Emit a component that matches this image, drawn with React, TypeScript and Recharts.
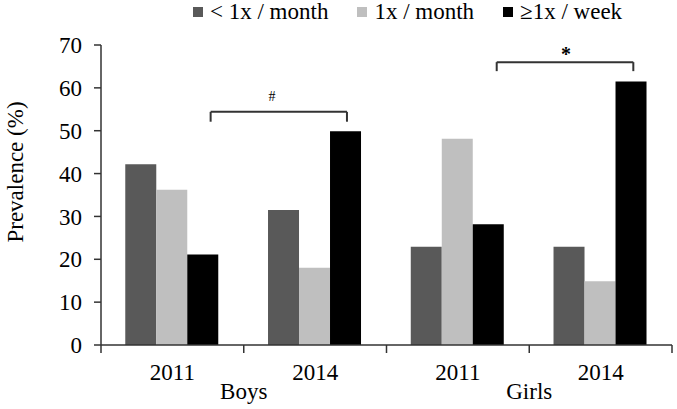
import React from 'react';
import {
  BarChart,
  Bar,
  XAxis,
  YAxis,
  Legend,
  ReferenceLine,
  ReferenceDot,
  Label,
} from 'recharts';

// ---- data ----
const categories = ['2011', '2014', '2011', '2014'];
const groups = ['Boys', 'Boys', 'Girls', 'Girls'];
const lessThanMonthly = [42.2, 31.5, 22.9, 22.9];
const monthly = [36.2, 18.0, 48.1, 14.9];
const weekly = [21.1, 49.9, 28.2, 61.5];

const seriesNames = ['< 1x / month', '1x / month', '\u22651x / week'];
const seriesKeys = ['lessMonthly', 'monthly', 'weekly'];
const seriesColors = ['#595959', '#bfbfbf', '#000000'];

const yTicks = [0, 10, 20, 30, 40, 50, 60, 70];

// significance brackets (x in a 0..4 group-position scale, y in the value scale)
const bracketMarks = ['#', '*'];
const bracketStart = [0.768, 2.772];
const bracketEnd = [1.723, 3.729];
const bracketTop = [54.4, 66.0];
const bracketFoot = [52.1, 63.9];
const markX = [1.198, 3.257];

const data = categories.map((c, i) => ({
  year: c,
  group: groups[i],
  slot: i + 0.5,
  lessMonthly: lessThanMonthly[i],
  monthly: monthly[i],
  weekly: weekly[i],
}));

const FONT = '"Liberation Serif", "Times New Roman", Times, serif';
const AXIS_COLOR = '#333333';
const X_TICK_SIZE = 8;
const X_TICK_MARGIN = 11;

function CategoryTick(props: any) {
  const { x, y, payload, index, width, visibleTicksCount } = props;
  const band = width / visibleTicksCount;
  const axisY = y - X_TICK_SIZE - X_TICK_MARGIN;
  const row = data[index];
  const showGroup = index === 0 || groups[index] !== groups[index - 1];
  const isLast = index === visibleTicksCount - 1;
  return (
    <g>
      <line x1={x - band / 2} x2={x - band / 2} y1={axisY} y2={axisY + X_TICK_SIZE} stroke={AXIS_COLOR} strokeWidth={1.5} />
      {isLast && (
        <line x1={x + band / 2} x2={x + band / 2} y1={axisY} y2={axisY + X_TICK_SIZE} stroke={AXIS_COLOR} strokeWidth={1.5} />
      )}
      <text x={x} y={y} dy="0.71em" textAnchor="middle" fontSize={23} fontFamily={FONT} fill="#000">
        {payload.value}
      </text>
      {showGroup && (
        <text x={x + band / 2} y={y + 19} dy="0.71em" textAnchor="middle" fontSize={23} fontFamily={FONT} fill="#000">
          {row ? row.group : ''}
        </text>
      )}
    </g>
  );
}

function YTitle(props: any) {
  const vb = props.viewBox || { x: 0, y: 45, width: 101, height: 300 };
  const cx = vb.x + 15;
  const cy = vb.y + vb.height / 2 - 23;
  return (
    <text
      x={cx}
      y={cy}
      transform={`rotate(-90 ${cx} ${cy})`}
      textAnchor="middle"
      dominantBaseline="central"
      fontSize={23}
      fontFamily={FONT}
      fill="#000"
    >
      Prevalence (%)
    </text>
  );
}

function LegendContent() {
  return (
    <div
      style={{
        display: 'flex',
        alignItems: 'center',
        paddingLeft: 193,
        height: 24,
        fontFamily: FONT,
        fontSize: 23,
        lineHeight: '24px',
        color: '#000',
        whiteSpace: 'nowrap',
      }}
    >
      {seriesNames.map((n, i) => (
        <div key={n} style={{ display: 'flex', alignItems: 'center', marginRight: 29 }}>
          <span style={{ display: 'inline-block', width: 10, height: 10, background: seriesColors[i], marginRight: 7 }} />
          <span style={{ fontFamily: FONT, fontSize: 23 }}>{n}</span>
        </div>
      ))}
    </div>
  );
}

export default function App() {
  return (
    <div style={{ position: 'absolute', left: 0, top: 0, width: 677, height: 409, background: '#fff', fontFamily: FONT }}>
      <BarChart
        width={677}
        height={409}
        data={data}
        margin={{ top: 45, right: 5, bottom: 0, left: 0 }}
        barCategoryGap="17%"
        barGap={0}
      >
        <XAxis
          dataKey="year"
          height={64}
          axisLine={{ stroke: AXIS_COLOR, strokeWidth: 1.5 }}
          tickLine={false}
          tickSize={X_TICK_SIZE}
          tickMargin={X_TICK_MARGIN}
          tick={<CategoryTick />}
          interval={0}
        />
        <XAxis
          xAxisId="num"
          dataKey="slot"
          type="number"
          scale="linear"
          domain={[0, 4]}
          allowDataOverflow
          padding={{ left: 0, right: 0 }}
          hide
        />
        <YAxis
          width={101}
          domain={[0, 70]}
          ticks={yTicks}
          interval={0}
          tickSize={7}
          tickMargin={12}
          axisLine={{ stroke: AXIS_COLOR, strokeWidth: 1.5 }}
          tickLine={{ stroke: AXIS_COLOR, strokeWidth: 1.5 }}
          tick={{ fill: '#000', fontSize: 23, fontFamily: FONT }}
        >
          <Label content={<YTitle />} />
        </YAxis>
        <Legend
          verticalAlign="middle"
          layout="horizontal"
          wrapperStyle={{ top: 0, left: 0, width: 677, fontFamily: FONT }}
          content={<LegendContent />}
        />
        {seriesKeys.map((k, i) => (
          <Bar key={k} dataKey={k} name={seriesNames[i]} fill={seriesColors[i]} isAnimationActive={false} />
        ))}
        {bracketMarks.map((m, i) => (
          <ReferenceLine
            key={`h${i}`}
            xAxisId="num"
            segment={[{ x: bracketStart[i], y: bracketTop[i] }, { x: bracketEnd[i], y: bracketTop[i] }]}
            stroke={AXIS_COLOR}
            strokeWidth={2}
            ifOverflow="visible"
          />
        ))}
        {bracketMarks.map((m, i) => (
          <ReferenceLine
            key={`l${i}`}
            xAxisId="num"
            segment={[{ x: bracketStart[i], y: bracketTop[i] }, { x: bracketStart[i], y: bracketFoot[i] }]}
            stroke={AXIS_COLOR}
            strokeWidth={2}
            ifOverflow="visible"
          />
        ))}
        {bracketMarks.map((m, i) => (
          <ReferenceLine
            key={`r${i}`}
            xAxisId="num"
            segment={[{ x: bracketEnd[i], y: bracketTop[i] }, { x: bracketEnd[i], y: bracketFoot[i] }]}
            stroke={AXIS_COLOR}
            strokeWidth={2}
            ifOverflow="visible"
          />
        ))}
        {bracketMarks.map((m, i) => (
          <ReferenceDot
            key={`m${i}`}
            xAxisId="num"
            x={markX[i]}
            y={bracketTop[i]}
            r={0}
            fill="none"
            stroke="none"
            ifOverflow="visible"
            label={{
              value: m,
              position: 'top',
              offset: i === 0 ? 11 : 1,
              fontSize: i === 0 ? 14 : 20,
              fontWeight: i === 0 ? 'normal' : 'bold',
              fontFamily: FONT,
              fill: '#000',
            }}
          />
        ))}
      </BarChart>
    </div>
  );
}
